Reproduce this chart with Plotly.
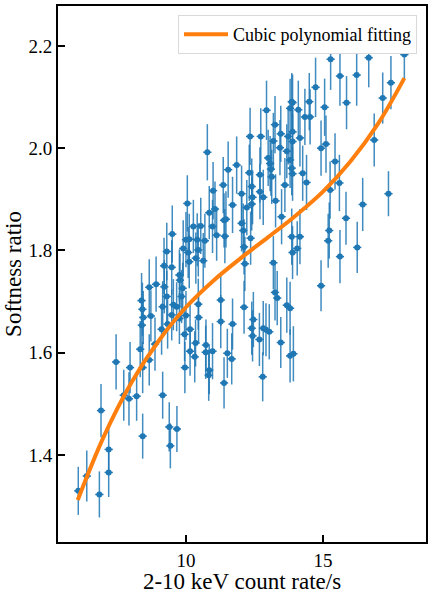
import plotly.graph_objects as go

# count rate (2-10 keV) vs softness ratio
rate = [
    6.07, 6.38, 6.84, 6.90, 7.18, 7.18, 7.45, 7.73, 7.92, 7.96, 8.20, 8.42, 8.42, 8.33, 8.66, 8.87,
    9.15, 9.39, 9.43, 9.67, 9.96, 9.95, 10.15, 10.32, 10.35, 10.73, 10.72, 10.85, 10.83, 10.97,
    10.05, 9.50, 11.36, 10.99, 10.85, 11.06, 11.46, 11.12, 11.42, 10.54, 10.27, 10.00, 10.12, 10.41,
    10.69, 9.90, 9.30, 10.08, 10.45, 10.36, 10.63, 10.12, 9.20, 9.48, 9.76, 9.78, 8.66, 8.91, 9.21,
    9.88, 9.30, 9.84, 8.38, 9.15, 9.66, 10.45, 8.44, 8.72, 10.00, 10.46, 8.39, 9.33, 9.11, 10.15,
    11.27, 11.27, 12.94, 12.34, 12.73, 13.25, 13.46, 13.80, 13.86, 14.10, 13.73, 14.16, 13.89, 13.19,
    13.43, 13.68, 13.00, 13.07, 13.10, 13.80, 13.86, 14.26, 11.85, 11.54, 12.70, 13.13, 12.40, 12.70,
    13.61, 12.03, 12.43, 12.82, 13.27, 11.70, 12.40, 12.22, 11.39, 12.03, 13.49, 10.97, 12.09, 12.36,
    13.86, 14.16, 14.06, 13.89, 12.12, 13.19, 12.15, 12.12, 11.70, 12.46, 12.40, 12.43, 12.68, 12.82,
    12.92, 13.04, 13.25, 13.33, 13.68, 13.80, 13.46, 13.80, 13.92, 11.51, 11.67, 11.39, 12.80, 15.28,
    16.67, 17.97, 15.62, 16.23, 15.86, 17.18, 17.48, 14.73, 15.06, 13.89, 14.50, 14.34, 14.53, 13.89,
    15.11, 14.93, 16.87, 15.44, 13.89, 14.40, 15.60, 15.26, 17.39, 16.45, 15.84, 15.23, 15.19, 15.62,
    16.25, 14.93, 9.54, 9.76, 10.78, 12.31, 8.41, 9.48,
]
softness = [
    1.330, 1.359, 1.323, 1.487, 1.411, 1.366, 1.582, 1.517, 1.510, 1.571, 1.515, 1.437, 1.571, 1.607,
    1.586, 1.617, 1.517, 1.455, 1.418, 1.451, 1.571, 1.636, 1.603, 1.592, 1.619, 1.615, 1.601, 1.566,
    1.556, 1.603, 1.892, 1.832, 1.928, 1.917, 1.874, 1.881, 1.861, 1.830, 1.828, 1.848, 1.847, 1.821,
    1.822, 1.821, 1.819, 1.804, 1.798, 1.796, 1.801, 1.785, 1.780, 1.778, 1.770, 1.767, 1.752, 1.742,
    1.728, 1.734, 1.729, 1.726, 1.710, 1.710, 1.702, 1.690, 1.690, 1.695, 1.669, 1.672, 1.673, 1.669,
    1.654, 1.656, 1.646, 1.646, 1.703, 1.661, 2.074, 2.023, 2.023, 2.046, 2.028, 2.078, 2.091, 2.075,
    2.023, 2.020, 2.032, 2.014, 2.001, 1.994, 1.981, 1.970, 1.959, 1.977, 1.961, 1.951, 1.967, 1.958,
    1.948, 1.944, 1.925, 1.915, 1.928, 1.911, 1.904, 1.904, 1.897, 1.889, 1.891, 1.884, 1.859, 1.853,
    1.866, 1.847, 1.839, 1.824, 1.827, 1.827, 1.804, 1.796, 1.807, 1.776, 1.774, 1.689, 1.656, 1.665,
    1.648, 1.633, 1.626, 1.648, 1.645, 1.641, 1.718, 1.707, 1.693, 1.687, 1.620, 1.594, 1.598, 1.599,
    1.588, 1.541, 1.553, 2.174, 2.177, 2.183, 2.141, 2.143, 2.089, 2.098, 2.128, 2.119, 2.080, 2.089,
    2.091, 2.061, 2.061, 2.013, 2.008, 2.000, 2.016, 1.974, 1.950, 1.933, 1.932, 1.918, 1.911, 1.890,
    1.863, 1.839, 1.819, 1.788, 1.806, 1.731, 1.694, 1.667, 1.992, 1.952, 1.685, 1.674,
]
softness_err = [
    0.047, 0.050, 0.045, 0.052, 0.045, 0.048, 0.054, 0.050, 0.052, 0.050, 0.048, 0.044, 0.050, 0.055,
    0.050, 0.052, 0.046, 0.048, 0.044, 0.045, 0.050, 0.052, 0.048, 0.050, 0.046, 0.050, 0.052, 0.047,
    0.050, 0.055, 0.055, 0.056, 0.055, 0.056, 0.052, 0.054, 0.055, 0.050, 0.053, 0.055, 0.052, 0.054,
    0.050, 0.052, 0.053, 0.055, 0.056, 0.050, 0.052, 0.050, 0.054, 0.052, 0.055, 0.053, 0.050, 0.052,
    0.055, 0.054, 0.052, 0.050, 0.050, 0.052, 0.054, 0.050, 0.048, 0.050, 0.052, 0.050, 0.048, 0.050,
    0.050, 0.048, 0.050, 0.052, 0.050, 0.052, 0.058, 0.056, 0.055, 0.056, 0.055, 0.058, 0.056, 0.057,
    0.055, 0.056, 0.054, 0.055, 0.054, 0.053, 0.055, 0.054, 0.052, 0.055, 0.053, 0.054, 0.056, 0.055,
    0.054, 0.053, 0.055, 0.054, 0.053, 0.055, 0.053, 0.054, 0.052, 0.055, 0.052, 0.054, 0.053, 0.055,
    0.054, 0.052, 0.053, 0.052, 0.055, 0.054, 0.053, 0.052, 0.054, 0.052, 0.053, 0.052, 0.050, 0.054,
    0.052, 0.050, 0.052, 0.053, 0.052, 0.054, 0.055, 0.053, 0.054, 0.052, 0.050, 0.052, 0.054, 0.048,
    0.050, 0.050, 0.048, 0.060, 0.058, 0.048, 0.058, 0.060, 0.052, 0.050, 0.052, 0.058, 0.056, 0.055,
    0.056, 0.055, 0.054, 0.054, 0.056, 0.054, 0.052, 0.055, 0.053, 0.054, 0.055, 0.056, 0.044, 0.052,
    0.052, 0.055, 0.053, 0.052, 0.050, 0.050, 0.050, 0.050, 0.055, 0.055, 0.052, 0.050,
]
rate_err = [0.15] * len(rate)

# orange cubic fit
fit_rate = [6.05, 7.0, 8.0, 9.0, 10.0, 11.0, 12.0, 13.0, 14.0, 15.0, 16.0, 17.0, 17.97]
fit_softness = [1.312, 1.436, 1.541, 1.623, 1.689, 1.741, 1.785, 1.826, 1.868, 1.915, 1.974, 2.047, 2.137]

blue = "#1f77b4"
orange = "#ff7f0e"
serif = "Liberation Serif"

fig = go.Figure()

fig.add_trace(go.Scatter(
    x=rate, y=softness,
    mode="markers",
    marker=dict(color=blue, size=6),
    error_y=dict(type="data", array=softness_err, color="rgba(31,119,180,0.85)", thickness=1.5, width=0),
    error_x=dict(type="data", array=rate_err, color=blue, thickness=1.5, width=0),
    showlegend=False,
))

fig.add_trace(go.Scatter(
    x=fit_rate, y=fit_softness,
    mode="lines",
    line=dict(color=orange, width=4, shape="spline", smoothing=1.0),
    name="Cubic polynomial fitting",
))

axis_style = dict(
    showline=True, linecolor="black", linewidth=2, mirror=True,
    ticks="inside", ticklen=7, tickwidth=1.5, tickcolor="black",
    showgrid=False, zeroline=False, automargin=False,
    tickfont=dict(family=serif, size=19, color="black"),
)

fig.update_layout(
    width=432, height=594,
    margin=dict(l=58, r=6, t=6, b=52),
    paper_bgcolor="white", plot_bgcolor="white",
    font=dict(family=serif, color="black"),
    xaxis=dict(range=[5.33, 18.76], tickvals=[10, 15],
               title=dict(text="2-10 keV count rate/s", font=dict(size=23), standoff=3),
               **axis_style),
    yaxis=dict(range=[1.230, 2.278], tickvals=[1.4, 1.6, 1.8, 2.0, 2.2], tickformat=".1f",
               title=dict(text="Softness ratio", font=dict(size=23), standoff=0),
               **axis_style),
    legend=dict(x=0.9755, y=0.983, xanchor="right", yanchor="top",
                bgcolor="white", bordercolor="#d9d9d9", borderwidth=1,
                itemwidth=44, font=dict(family=serif, size=18)),
)

# drop the default page margin so the figure sits at the window corner
fig.write_html("out.html", config={"displayModeBar": False},
               post_script="document.body.style.margin='0';")
